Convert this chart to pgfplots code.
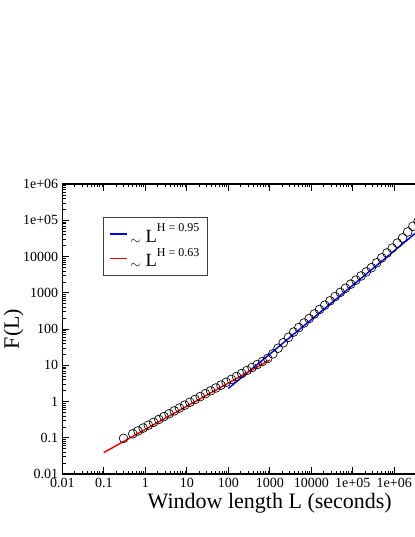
\documentclass[border=0pt]{standalone}
\usepackage{fontspec}
\setmainfont{Liberation Serif}
\usepackage{pgfplots}
\pgfplotsset{compat=1.18}

% DFA-like fluctuation function (L, F)
\pgfplotstableread{
L F
0.501 0.1285
0.668 0.154
0.891 0.185
1.189 0.222
1.585 0.266
2.113 0.319
2.818 0.383
3.758 0.459
5.012 0.551
6.683 0.661
8.913 0.793
11.89 0.951
15.85 1.140
21.13 1.368
28.18 1.641
37.58 1.968
50.12 2.360
66.83 2.831
89.13 3.396
118.9 4.074
158.5 4.898
211.3 5.929
281.8 7.178
375.8 8.670
501.2 10.50
668.3 12.71
891.3 15.38
1189 20.59
1585 29.51
2113 41.69
2818 58.88
3758 82.22
5012 109.6
6683 146.2
8913 195.0
11890 260.0
15850 345.1
21130 454.0
28180 598.4
37580 787.0
50120 1025
66830 1330
89130 1726
118900 2239
158500 2904
211300 3767
281800 4909
375800 6699
501200 9162
668300 12500
891300 17060
1189000 23330
1585000 32580
2113000 47640
2818000 68230
3758000 93750
5012000 128800
}\dfa

\begin{document}
\begin{tikzpicture}
\path[use as bounding box] (-46.7pt,-47.25pt) rectangle (264.5pt,355.5pt);
\clip (-46.7pt,-47.25pt) rectangle (264.5pt,355.5pt);
\begin{axis}[
  at={(0pt,0pt)}, anchor=south west,
  scale only axis,
  width=311.25pt, height=217.5pt,
  xmode=log, ymode=log,
  xmin=0.01, xmax=1e8, ymin=0.01, ymax=1e6,
  xtick={0.01,0.1,1,10,100,1000,10000,100000,1000000},
  xticklabels={0.01,0.1,1,10,100,1000,10000,1e+05,1e+06},
  ytick={0.01,0.1,1,10,100,1000,10000,100000,1000000},
  yticklabels={0.01,0.1,1,10,100,1000,10000,1e+05,1e+06},
  tick align=inside,
  major tick length=5pt, minor tick length=2.6pt,
  tick style={black, line width=0.5pt},
  axis line style={black, line width=0.8pt},
  ticklabel style={font=\fontsize{10.5}{12}\selectfont},
  xticklabel style={yshift=0.5pt},
  yticklabel style={xshift=0.5pt},
  xlabel={Window length L (seconds)},
  ylabel={F(L)},
  label style={font=\fontsize{16.5}{18}\selectfont},
  xlabel style={at={(axis description cs:0.5,0)}, anchor=center, yshift=-22pt},
  ylabel style={at={(axis description cs:-0.117,0.5)}, anchor=center},
  legend style={at={(axis description cs:0.0988,0.887)}, anchor=north west,
    draw=black!75, line width=0.6pt, font=\fontsize{14}{15}\selectfont,
    row sep=-1pt, inner xsep=4pt, inner ysep=3pt},
  legend cell align=left,
  legend image code/.code={\draw[#1] (0pt,0pt) -- (13pt,0pt);},
]
\addplot[blue, line width=1.1pt] coordinates {(100,2.28) (10000000,128200)};
\addlegendentry{{\fontsize{10}{12}\selectfont\raisebox{-0.4ex}{$\sim$}} L\raisebox{1.2ex}{\fontsize{9}{10}\selectfont H = 0.95}}
\addplot[red, line width=1.1pt] coordinates {(0.1,0.039) (1000,14)};
\addlegendentry{{\fontsize{10}{12}\selectfont\raisebox{-0.4ex}{$\sim$}} L\raisebox{1.2ex}{\fontsize{9}{10}\selectfont H = 0.63}}
\addplot[only marks, mark=o, mark size=3.3pt, black, mark options={line width=0.5pt}]
  table {\dfa};
\addplot[only marks, mark=o, mark size=3.3pt, black, mark options={line width=0.5pt}]
  coordinates {(0.3,0.096)};
\end{axis}
\end{tikzpicture}
\end{document}
